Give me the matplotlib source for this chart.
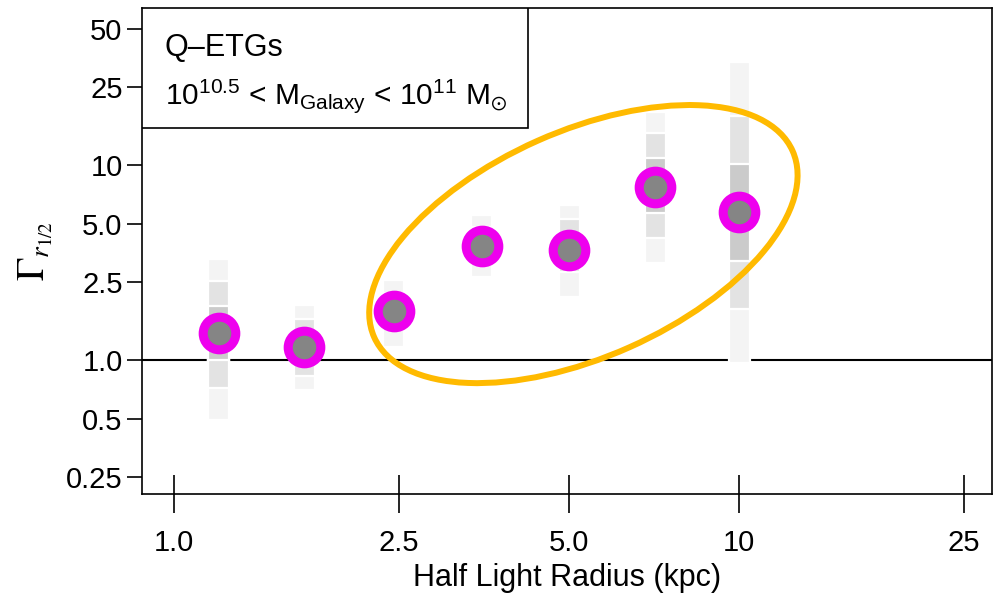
import matplotlib
matplotlib.use("Agg")
import matplotlib.pyplot as plt
from matplotlib.patches import Rectangle, Ellipse
from matplotlib.transforms import ScaledTranslation

plt.rcParams["font.family"] = ["Liberation Sans", "DejaVu Sans"]
plt.rcParams["mathtext.fontset"] = "custom"
plt.rcParams["mathtext.rm"] = "Liberation Sans"
plt.rcParams["mathtext.it"] = "Liberation Sans:italic"

# half light radius bins (kpc) and Gamma(r_1/2) medians
radius = [1.2, 1.7, 2.45, 3.5, 5.0, 7.1, 10.0]
gamma = [1.38, 1.17, 1.78, 3.86, 3.66, 7.74, 5.72]

# nested credible intervals (outer / middle / inner)
outer_lo = [0.49, 0.70, 1.17, 2.67, 2.10, 3.14, 0.965]
outer_hi = [3.29, 1.91, 2.57, 5.54, 6.23, 18.8, 33.8]
mid_lo = [0.72, 0.83, 1.45, 3.10, 2.83, 4.22, 1.83]
mid_hi = [2.54, 1.62, 2.20, 4.80, 5.28, 14.6, 17.8]
inner_lo = [1.00, 1.02, 1.60, 3.40, 3.10, 5.67, 3.22]
inner_hi = [1.89, 1.35, 1.95, 4.40, 4.30, 10.85, 10.1]

xticks = [1.0, 2.5, 5.0, 10, 25]
xticklabels = ["1.0", "2.5", "5.0", "10", "25"]
yticks = [0.25, 0.5, 1.0, 2.5, 5.0, 10, 25, 50]
yticklabels = ["0.25", "0.5", "1.0", "2.5", "5.0", "10", "25", "50"]

fig = plt.figure(figsize=(9.94, 5.93), dpi=100)
ax = fig.add_axes([0.1429, 0.1669, 0.8551, 0.8196])
ax.set_xscale("log")
ax.set_yscale("log")
ax.set_xlim(0.878, 28.0)
ax.set_ylim(0.2055, 63.8)

ax.axhline(1.0, color="black", lw=1.5, zorder=1)

# grey interval strips, drawn outer -> inner
half = 10 ** 0.0186
bands = [(outer_lo, outer_hi, "#f4f4f4"),
         (mid_lo, mid_hi, "#e3e3e3"),
         (inner_lo, inner_hi, "#cbcbcb")]
for lo, hi, col in bands:
    for x, a, b in zip(radius, lo, hi):
        ax.add_patch(Rectangle((x / half, a), x * half - x / half, b - a,
                               facecolor=col, edgecolor="white", lw=1.6,
                               zorder=2))

ax.plot(radius, gamma, "o", ms=23.5, mfc="#858585", mec="#ee00ee", mew=6.5,
        zorder=4, clip_on=False)

# highlight ellipse around the rising points
ell_tr = fig.dpi_scale_trans + ScaledTranslation(5.30, 3.93, ax.transData)
ax.add_patch(Ellipse((0, 0), 4.58, 2.26, angle=24, fill=False,
                     edgecolor="#ffba00", lw=4.3, transform=ell_tr,
                     zorder=5, clip_on=False))

# info box
ax.add_patch(Rectangle((0, 1 - 0.247), 0.454, 0.247, transform=ax.transAxes,
                       facecolor="white", edgecolor="black", lw=1.2, zorder=6))
ax.text(0.027, 0.918, "Q\u2013ETGs", transform=ax.transAxes, fontsize=22,
        va="center", ha="left", zorder=7)
ax.text(0.027, 0.818,
        r"$\mathregular{10^{10.5}}$ < $\mathregular{M_{Galaxy}}$ < "
        r"$\mathregular{10^{11}}$ $\mathregular{M_{\odot}}$",
        transform=ax.transAxes, fontsize=21.5, va="center", ha="left",
        zorder=7)

ax.set_xticks(xticks)
ax.set_xticklabels(xticklabels)
ax.set_yticks(yticks)
ax.set_yticklabels(yticklabels)
ax.minorticks_off()
ax.tick_params(axis="x", direction="inout", length=27, width=1.2,
               labelsize=21, pad=12)
ax.tick_params(axis="y", direction="out", length=11, width=1.2,
               labelsize=21, pad=3)
for sp in ax.spines.values():
    sp.set_linewidth(1.2)

ax.set_xlabel("Half Light Radius (kpc)", fontsize=22, labelpad=4)
ax.set_ylabel(r"$\Gamma_{r_{1/2}}$", fontsize=28,
              math_fontfamily="stix", labelpad=8)

fig.savefig("out.png", dpi=100)
